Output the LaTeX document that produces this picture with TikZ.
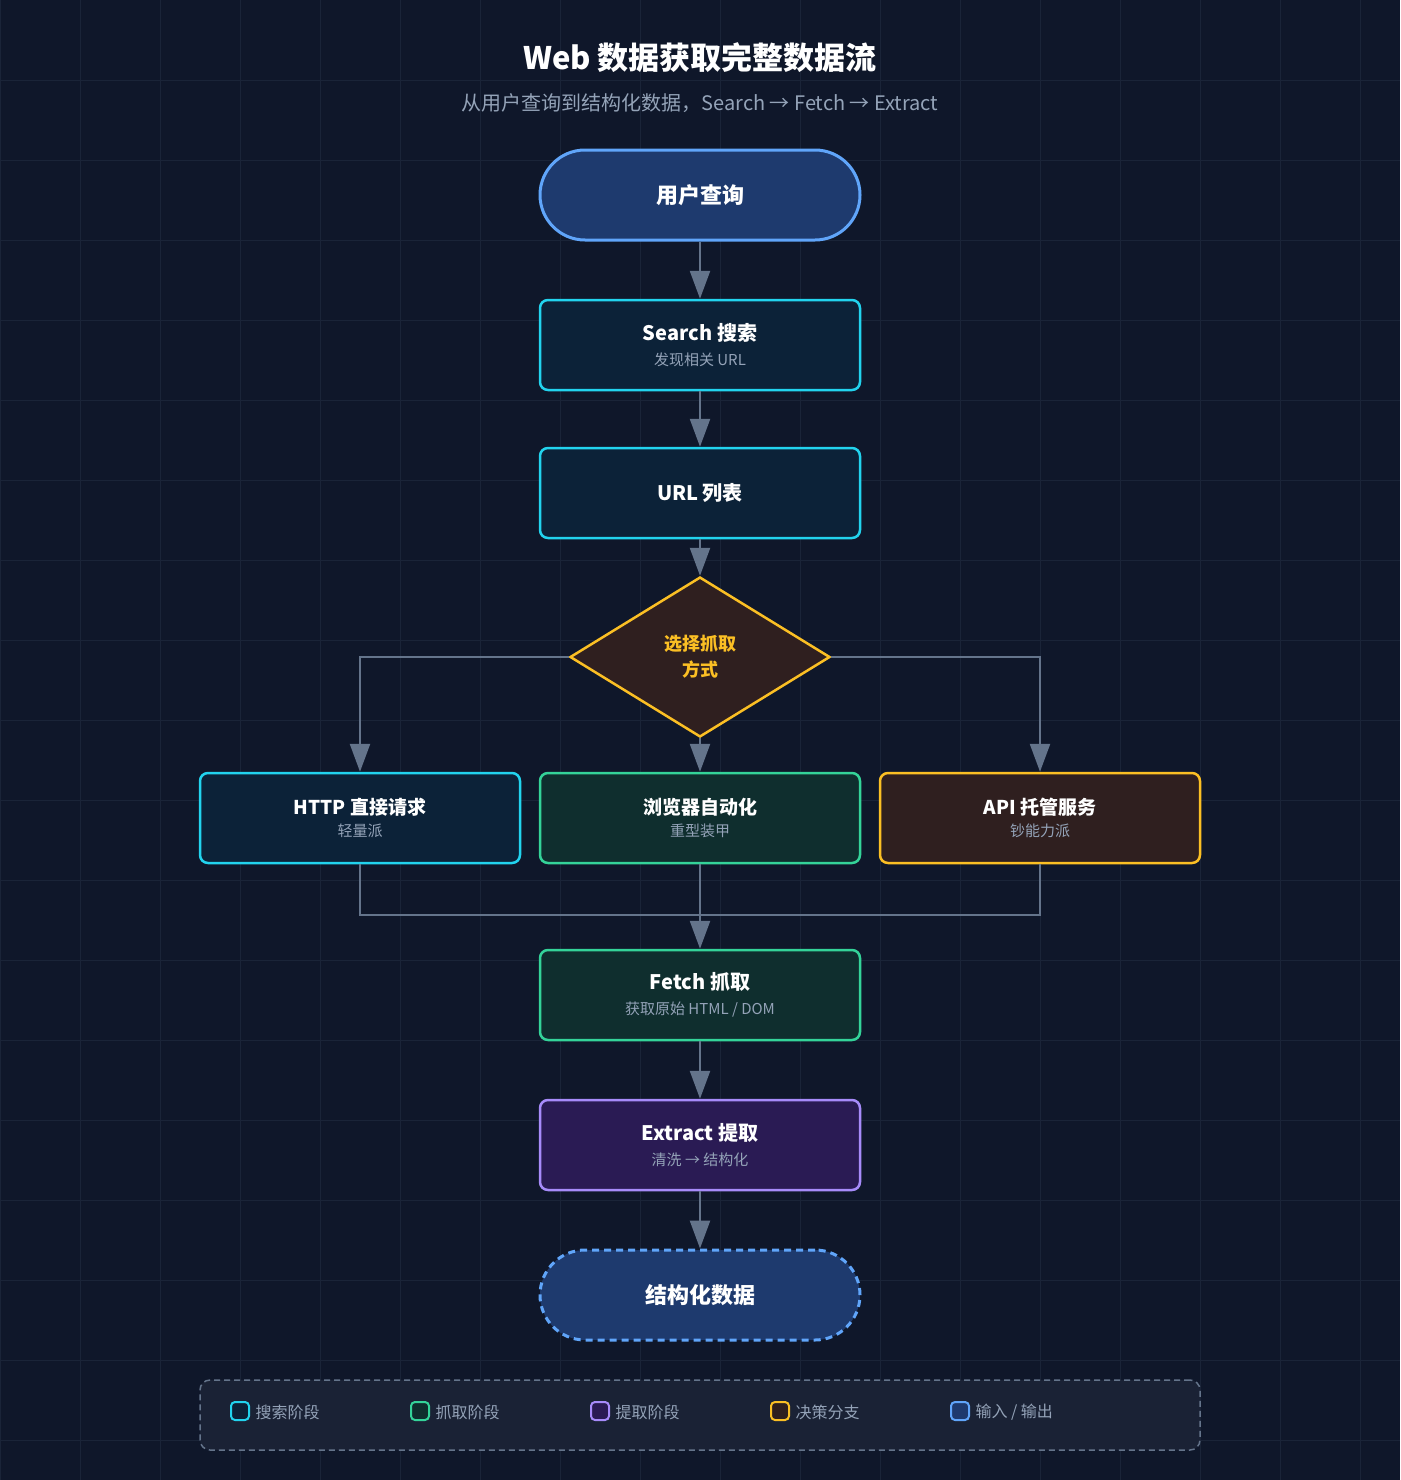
\documentclass[tikz,border=0pt]{standalone}
\usepackage{fontspec}
\setmainfont{Noto Sans CJK SC}
\usetikzlibrary{arrows.meta,shapes.geometric}
\definecolor{bg}{HTML}{0F172A}
\definecolor{gridc}{HTML}{1A2438}
\definecolor{edge}{HTML}{64748B}
\definecolor{subt}{HTML}{94A3B8}
\definecolor{cyanb}{HTML}{22D3EE}\definecolor{cyanf}{HTML}{0C2238}
\definecolor{greenb}{HTML}{34D399}\definecolor{greenf}{HTML}{0F2E2E}
\definecolor{purpb}{HTML}{A78BFA}\definecolor{purpf}{HTML}{2A1B54}
\definecolor{ambb}{HTML}{FBBF24}\definecolor{ambf}{HTML}{2F1F1F}
\definecolor{blueb}{HTML}{60A5FA}\definecolor{bluef}{HTML}{1E3A6E}
\definecolor{legf}{HTML}{1A2235}
\begin{document}
\begin{tikzpicture}[x=1pt,y=-1pt,
 box/.style={draw=#1b,fill=#1f,line width=2.5pt,rounded corners=8pt,minimum width=320pt,minimum height=90pt,align=center,text=white,inner sep=0pt},
 pill/.style={draw=blueb,fill=bluef,line width=3pt,rounded corners=45pt,minimum width=320pt,minimum height=90pt,text=white,font=\fontsize{22}{26}\selectfont\bfseries},
 arr/.style={draw=edge,line width=2.5pt,-{Triangle[length=28pt,width=20pt]}},
 ln/.style={draw=edge,line width=2.5pt},
 mt/.style={font=\fontsize{20}{24}\selectfont\bfseries},
 leg/.style={draw=#1b,fill=#1f,line width=2pt,rounded corners=4pt,minimum width=18pt,minimum height=18pt,inner sep=0pt},
 lt/.style={font=\fontsize{16}{19}\selectfont,text=subt,anchor=west}]
\useasboundingbox (0,0) rectangle (1400,1480);
\fill[bg] (0,0) rectangle (1400,1480);
\begin{scope}
\clip (0,0) rectangle (1400,1480);
\foreach \x in {0,80,...,1400} \draw[gridc,line width=1pt] (\x,0) -- (\x,1480);
\foreach \y in {0,80,...,1480} \draw[gridc,line width=1pt] (0,\y) -- (1400,\y);
\end{scope}
\node[text=white,font=\fontsize{31}{36}\selectfont\bfseries] (title) at (700,58) {Web 数据获取完整数据流};
\node[text=subt,font=\fontsize{20}{24}\selectfont] (sub) at (700,103) {从用户查询到结构化数据，Search → Fetch → Extract};
\node[pill] (q) at (700,195) {用户查询};
\node[box=cyan] (s) at (700,345) {{\fontsize{20}{24}\selectfont\bfseries Search 搜索}\\[9pt]{\fontsize{15}{18}\selectfont\color{subt}发现相关 URL}};
\node[box=cyan,mt] (u) at (700,493) {URL 列表};
\node[diamond,draw=ambb,fill=ambf,line width=2.5pt,minimum width=260pt,minimum height=160pt,inner sep=0pt,aspect=1.625,align=center,text=ambb,font=\fontsize{18}{26}\selectfont\bfseries] (d) at (700,657) {选择抓取\\方式};
\node[box=cyan] (h) at (360,818) {{\fontsize{19}{23}\selectfont\bfseries HTTP 直接请求}\\[7pt]{\fontsize{15}{18}\selectfont\color{subt}轻量派}};
\node[box=green] (b) at (700,818) {{\fontsize{19}{23}\selectfont\bfseries 浏览器自动化}\\[7pt]{\fontsize{15}{18}\selectfont\color{subt}重型装甲}};
\node[box=amb] (a) at (1040,818) {{\fontsize{19}{23}\selectfont\bfseries API 托管服务}\\[7pt]{\fontsize{15}{18}\selectfont\color{subt}钞能力派}};
\node[box=green] (f) at (700,995) {{\fontsize{20}{24}\selectfont\bfseries Fetch 抓取}\\[9pt]{\fontsize{15}{18}\selectfont\color{subt}获取原始 HTML / DOM}};
\node[box=purp] (e) at (700,1145) {{\fontsize{20}{24}\selectfont\bfseries Extract 提取}\\[9pt]{\fontsize{15}{18}\selectfont\color{subt}清洗 → 结构化}};
\node[pill,dashed,dash pattern=on 7pt off 5pt] (o) at (700,1295) {结构化数据};
\draw[arr] (q) -- (s);
\draw[arr] (s) -- (u);
\draw[arr] (u) -- (d.north);
\draw[arr] (d.west) -| (h.north);
\draw[arr] (d.east) -| (a.north);
\draw[arr] (d.south) -- (b.north);
\coordinate (m) at (700,915);
\draw[ln] (h.south) |- (m);
\draw[ln] (a.south) |- (m);
\draw[arr] (b.south) -- (f.north);
\draw[arr] (f) -- (e);
\draw[arr] (e) -- (o);
\node[draw=edge,fill=legf,line width=1.5pt,dashed,dash pattern=on 6pt off 4pt,rounded corners=10pt,minimum width=1000pt,minimum height=70pt] (lg) at (700,1415) {};
\node[leg=cyan] (l1) at (240,1411) {}; \node[lt] at (252,1412) {搜索阶段};
\node[leg=green] (l2) at (420,1411) {}; \node[lt] at (432,1412) {抓取阶段};
\node[leg=purp] (l3) at (600,1411) {}; \node[lt] at (612,1412) {提取阶段};
\node[leg=amb] (l4) at (780,1411) {}; \node[lt] at (792,1412) {决策分支};
\node[leg=blue] (l5) at (960,1411) {}; \node[lt] at (972,1412) {输入 / 输出};
\end{tikzpicture}
\end{document}
